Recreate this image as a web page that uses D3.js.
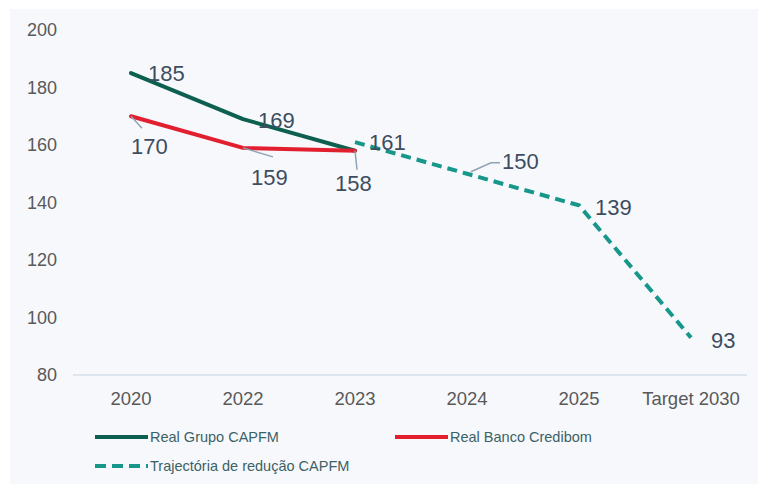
<!DOCTYPE html>
<html><head><meta charset="utf-8">
<script src="https://cdn.jsdelivr.net/npm/d3@7"></script>
<style>html,body{margin:0;padding:0;background:#fff;}svg{display:block;}</style>
</head><body><svg id="c" width="758" height="484"></svg>
<script>
const categories = ["2020","2022","2023","2024","2025","Target 2030"];
const grupo = [185,169,158,null,null,null];
const credibom = [170,159,158,null,null,null];
const trajectoria = [null,null,161,150,139,93];
const yTicks = [80,100,120,140,160,180,200];
const seriesNames = ["Real Grupo CAPFM","Real Banco Credibom","Trajectória de redução CAPFM"];

const svg = d3.select("#c");
const font = "Liberation Sans, Arial, sans-serif";
svg.append("rect").attr("x",10).attr("y",9).attr("width",748).attr("height",475).attr("fill","#f7f8fc");

const x = d3.scaleBand().domain(categories).range([75,747]);
const y = d3.scaleLinear().domain([80,200]).range([375,30]);
const cx = c => x(c) + x.bandwidth()/2;

// y labels
svg.append("g").selectAll("text").data(yTicks).join("text")
  .attr("x",57).attr("y",d=>y(d)).attr("dy","0.35em").attr("text-anchor","end")
  .attr("font-family",font).attr("font-size",18).attr("fill","#595959").text(d=>d);

// x axis
const xAxis = d3.axisBottom(x).tickSize(0).tickPadding(17);
const gx = svg.append("g").attr("transform",`translate(0,${y(80)})`).call(xAxis);
gx.select(".domain").attr("stroke","#d5dfeb").attr("stroke-width",1.5).attr("d","M73,0H747");
gx.selectAll("text").attr("font-family",font).attr("font-size",18.5).attr("fill","#595959");

const colors = ["#0d5f4f","#e21f2f","#16978a"];
const line = d3.line().defined(d=>d.v!=null).x(d=>cx(d.c)).y(d=>y(d.v)).curve(d3.curveLinear);
const mk = arr => categories.map((c,i)=>({c, v:arr[i]}));

svg.append("path").datum(mk(trajectoria)).attr("d",line).attr("fill","none")
  .attr("stroke",colors[2]).attr("stroke-width",4).attr("stroke-dasharray","10,6");
svg.append("path").datum(mk(grupo)).attr("d",line).attr("fill","none")
  .attr("stroke",colors[0]).attr("stroke-width",4).attr("stroke-linecap","round").attr("stroke-linejoin","round");
svg.append("path").datum(mk(credibom)).attr("d",line).attr("fill","none")
  .attr("stroke",colors[1]).attr("stroke-width",4).attr("stroke-linecap","round").attr("stroke-linejoin","round");

// data labels: [series, index, dx, dy, leader]
const labels = [
  [grupo,0,17,0,false],
  [grupo,1,15,1,false],
  [credibom,0,0,30,true],
  [credibom,1,8,29,true],
  [credibom,2,-20,33,true],
  [trajectoria,2,14,0,false],
  [trajectoria,3,35,-12,true],
  [trajectoria,4,16,2,false],
  [trajectoria,5,20,3,false]
];
const lg = svg.append("g");
labels.forEach(([arr,i,dx,dy,leader])=>{
  const px = cx(categories[i]), py = y(arr[i]);
  if(leader){
    let lx2, ly2;
    if(arr===trajectoria){ lx2 = px+33; ly2 = py-11; lg.append("path").attr("d",`M${px+4},${py-2}L${px+24},${ly2}H${lx2}`).attr("fill","none").attr("stroke","#8fa3b8").attr("stroke-width",1.5); }
    else if(i===0){ lg.append("line").attr("x1",px).attr("y1",py).attr("x2",px+11).attr("y2",py+12).attr("stroke","#8fa3b8").attr("stroke-width",1.5); }
    else if(i===1){ lg.append("line").attr("x1",px).attr("y1",py).attr("x2",px+30).attr("y2",py+9).attr("stroke","#8fa3b8").attr("stroke-width",1.5); }
    else { lg.append("line").attr("x1",px).attr("y1",py).attr("x2",px+2).attr("y2",py+19).attr("stroke","#8fa3b8").attr("stroke-width",1.5); }
  }
  lg.append("text").attr("x",px+dx).attr("y",py+dy).attr("dy","0.35em")
    .attr("font-family",font).attr("font-size",22).attr("fill","#3d4d5f").text(arr[i]);
});

// legend
const legend = [
  {name:seriesNames[0], color:colors[0], x:95, y:437, dash:null},
  {name:seriesNames[1], color:colors[1], x:395, y:437, dash:null},
  {name:seriesNames[2], color:colors[2], x:95, y:466, dash:"11,6"}
];
const lgd = svg.append("g");
legend.forEach(l=>{
  lgd.append("line").attr("x1",l.x).attr("x2",l.x+53).attr("y1",l.y).attr("y2",l.y)
    .attr("stroke",l.color).attr("stroke-width",4).attr("stroke-dasharray",l.dash);
  lgd.append("text").attr("x",l.x+55).attr("y",l.y).attr("dy","0.35em")
    .attr("font-family",font).attr("font-size",14.5).attr("fill","#3b6265").text(l.name);
});
</script></body></html>
